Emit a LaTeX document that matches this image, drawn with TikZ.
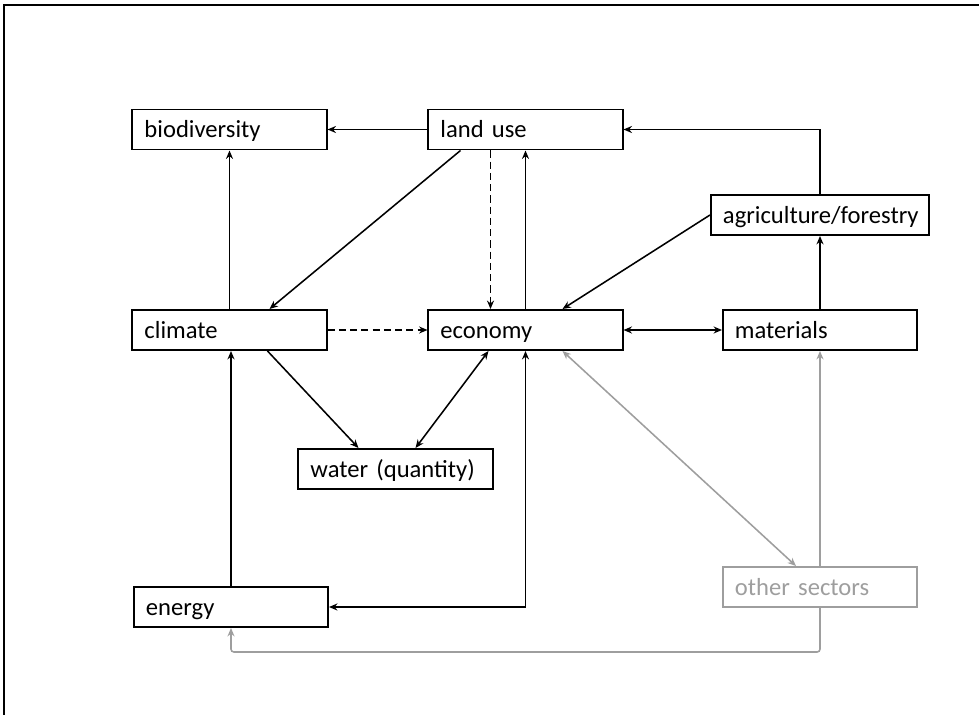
\documentclass[tikz,border=0pt]{standalone}
\usepackage{fontspec}
\setmainfont{Carlito}[WordSpace=0.55]
\usetikzlibrary{arrows.meta, calc}
\definecolor{faded}{RGB}{158,158,158}
\tikzset{
  box/.style={draw, line width=1.4pt, minimum height=1cm, text width=4.25cm,
    text height=14pt, text depth=2pt,
    inner xsep=0.3cm, align=left, font=\fontsize{17.5}{20}\selectfont},
  link/.style={line width=1.1pt, -{Stealth[length=6pt,width=5pt]}},
  both/.style={line width=1.1pt, {Stealth[length=6pt,width=5pt]}-{Stealth[length=6pt,width=5pt]}},
  dashlink/.style={link, dash pattern=on 5pt off 3pt}
}

\begin{document}
\begin{tikzpicture}[x=0.025cm, y=-0.025cm]
  \useasboundingbox (0,0) rectangle (979,715);
  \draw[line width=1.4pt] (4,715) -- (4,5) -- (979,5);
  % Top row
  \node[box] (bio) at (229.5,129.5) {biodiversity};
  \node[box] (land) at (525.5,129.5) {land use};
  \node[box, text width=4.85cm] (agri) at (820,215) {agriculture/forestry};
  % Middle row
  \node[box] (clim) at (229.5,330) {climate};
  \node[box] (econ) at (525.5,330) {economy};
  \node[box] (mat) at (820,330) {materials};
  \node[box] (water) at (395.5,469) {water (quantity)};
  % Bottom row
  \node[box] (energy) at (231,607) {energy};
  \node[box, draw=faded, text=faded] (other) at (820,587) {other sectors};
  % Black links
  \draw[link] (land.west) -- (bio.east);
  \draw[link] (clim.north) -- (bio.south);
  \draw[link] ($(land.south)+(-65,0)$) -- ($(clim.north)+(40,0)$);
  \draw[dashlink] ($(land.south)+(-35,0)$) -- ($(econ.north)+(-35,0)$);
  \draw[link] (econ.north) -- (land.south);
  \draw[link] (agri.north) |- (land.east);
  \draw[link] (agri.west) -- ($(econ.north)+(37,0)$);
  \draw[link] (mat.north) -- (agri.south);
  \draw[both] (econ.east) -- (mat.west);
  \draw[dashlink] (clim.east) -- (econ.west);
  \draw[link] ($(clim.south)+(38,0)$) -- ($(water.north)+(-37,0)$);
  \draw[both] ($(econ.south)+(-37,0)$) -- ($(water.north)+(20,0)$);
  \draw[both] (econ.south) |- (energy.east);
  \draw[link] (energy.north) -- (energy.north |- clim.south);
  % Grey links
  \draw[both, faded] ($(econ.south)+(37,0)$) -- ($(other.north)+(-24,0)$);
  \draw[link, faded] (other.north) -- (mat.south);
  \draw[link, faded, rounded corners=2pt] (other.south) -- ++(0,44) -| (energy.south);
\end{tikzpicture}
\end{document}
